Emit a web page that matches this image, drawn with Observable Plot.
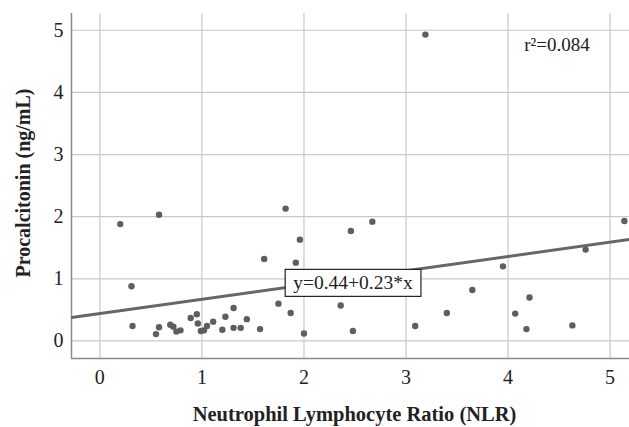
<!DOCTYPE html>
<html>
<head>
<meta charset="utf-8">
<script src="https://cdn.jsdelivr.net/npm/d3@7"></script>
<script src="https://cdn.jsdelivr.net/npm/@observablehq/plot@0.6"></script>
<style>
  html, body { margin: 0; padding: 0; background: #fff; }
  #chart svg { display: block; }
</style>
</head>
<body>
<div id="chart"></div>
<script>
// Neutrophil Lymphocyte Ratio (NLR)
const nlr = [0.20, 0.58, 0.31, 0.32, 0.55, 0.58, 0.69, 0.72, 0.75, 0.79,
             0.89, 0.95, 0.96, 0.99, 1.02, 1.05, 1.11, 1.20, 1.23, 1.31,
             1.31, 1.38, 1.44, 1.57, 1.61, 1.75, 1.82, 1.87, 1.92, 1.96,
             2.00, 2.36, 2.46, 2.48, 2.67, 3.09, 3.40, 3.65, 3.95, 4.07,
             4.18, 4.21, 4.63, 4.76, 5.14, 3.19];
// Procalcitonin (ng/mL)
const pct = [1.88, 2.03, 0.88, 0.24, 0.11, 0.22, 0.26, 0.23, 0.15, 0.17,
             0.37, 0.43, 0.28, 0.16, 0.17, 0.24, 0.31, 0.18, 0.39, 0.53,
             0.21, 0.21, 0.35, 0.19, 1.32, 0.60, 2.13, 0.45, 1.26, 1.63,
             0.12, 0.57, 1.77, 0.16, 1.92, 0.24, 0.45, 0.82, 1.20, 0.44,
             0.19, 0.70, 0.25, 1.47, 1.93, 4.93];
// Fit: y = 0.44 + 0.23*x, r² = 0.084
const fitIntercept = [0.44];
const fitSlope = [0.23];
const rSquared = ["r²=0.084"];
const equationLabel = ["y=0.44+0.23*x"];
const equationAt = [2.48, 0.93];
const rSquaredAt = [4.48, 4.76];
const xTicks = [0, 1, 2, 3, 4, 5];
const yTicks = [0, 1, 2, 3, 4, 5];
const xDomain = [-0.278, 5.19];
const yDomain = [-0.283, 5.27];

const points = nlr.map((x, i) => ({x, y: pct[i]}));
const fitLine = xDomain.map(x => ({x, y: fitIntercept[0] + fitSlope[0] * x}));

const font = "Liberation Serif, Times New Roman, serif";

const chart = Plot.plot({
  width: 629,
  height: 427,
  marginLeft: 71,
  marginTop: 13,
  marginRight: 0,
  marginBottom: 69,
  style: {fontFamily: font, fontSize: "20px", color: "#222", background: "#fff"},
  x: {domain: xDomain},
  y: {domain: yDomain},
  marks: [
    Plot.gridX(xTicks, {stroke: "#c8c8c8", strokeOpacity: 1, strokeWidth: 1.2}),
    Plot.gridY(yTicks, {stroke: "#c8c8c8", strokeOpacity: 1, strokeWidth: 1.2}),
    Plot.axisX(xTicks, {tickSize: 0, tickPadding: 11, label: null, fontSize: 20, fill: "#222", tickFormat: d3.format("d")}),
    Plot.axisY(yTicks, {tickSize: 0, tickPadding: 8, label: null, fontSize: 20, fill: "#222", tickFormat: d3.format("d")}),
    Plot.ruleX([xDomain[0]], {stroke: "#8a8a8a", strokeWidth: 1.5}),
    Plot.ruleY([yDomain[0]], {stroke: "#8a8a8a", strokeWidth: 1.5}),
    Plot.line(fitLine, {x: "x", y: "y", stroke: "#666", strokeWidth: 3, clip: true}),
    Plot.dot(points, {x: "x", y: "y", r: 3.2, fill: "#5e5e5e", stroke: "none"}),
    Plot.text(equationLabel, {x: () => equationAt[0], y: () => equationAt[1], text: d => d,
      fontSize: 19.5, fill: "#222", className: "eqlabel"}),
    Plot.text(rSquared, {x: () => rSquaredAt[0], y: () => rSquaredAt[1], text: d => d,
      fontSize: 19, fill: "#222"}),
    Plot.text(["Procalcitonin (ng/mL)"], {frameAnchor: "left", dx: -48, dy: -3, rotate: -90, textAnchor: "middle",
      text: d => d, fontSize: 20, fontWeight: "bold", fill: "#222"}),
    Plot.text(["Neutrophil Lymphocyte Ratio (NLR)"], {frameAnchor: "bottom", dy: 62, dx: 4, textAnchor: "middle",
      text: d => d, fontSize: 20.5, fontWeight: "bold", fill: "#222"})
  ]
});

document.getElementById("chart").appendChild(chart);

// Box behind the equation label
const g = chart.querySelector("g.eqlabel");
if (g) {
  const t = g.querySelector("text");
  const bb = t.getBBox();
  const padX = 8, padY = 3;
  const rect = document.createElementNS("http://www.w3.org/2000/svg", "rect");
  rect.setAttribute("x", bb.x - padX);
  rect.setAttribute("y", bb.y - padY);
  rect.setAttribute("width", bb.width + 2 * padX);
  rect.setAttribute("height", bb.height + 2 * padY);
  rect.setAttribute("fill", "#fff");
  rect.setAttribute("stroke", "#222");
  rect.setAttribute("stroke-width", "1.2");
  const tr = t.getAttribute("transform");
  if (tr) rect.setAttribute("transform", tr);
  g.insertBefore(rect, t);
}
</script>
</body>
</html>
